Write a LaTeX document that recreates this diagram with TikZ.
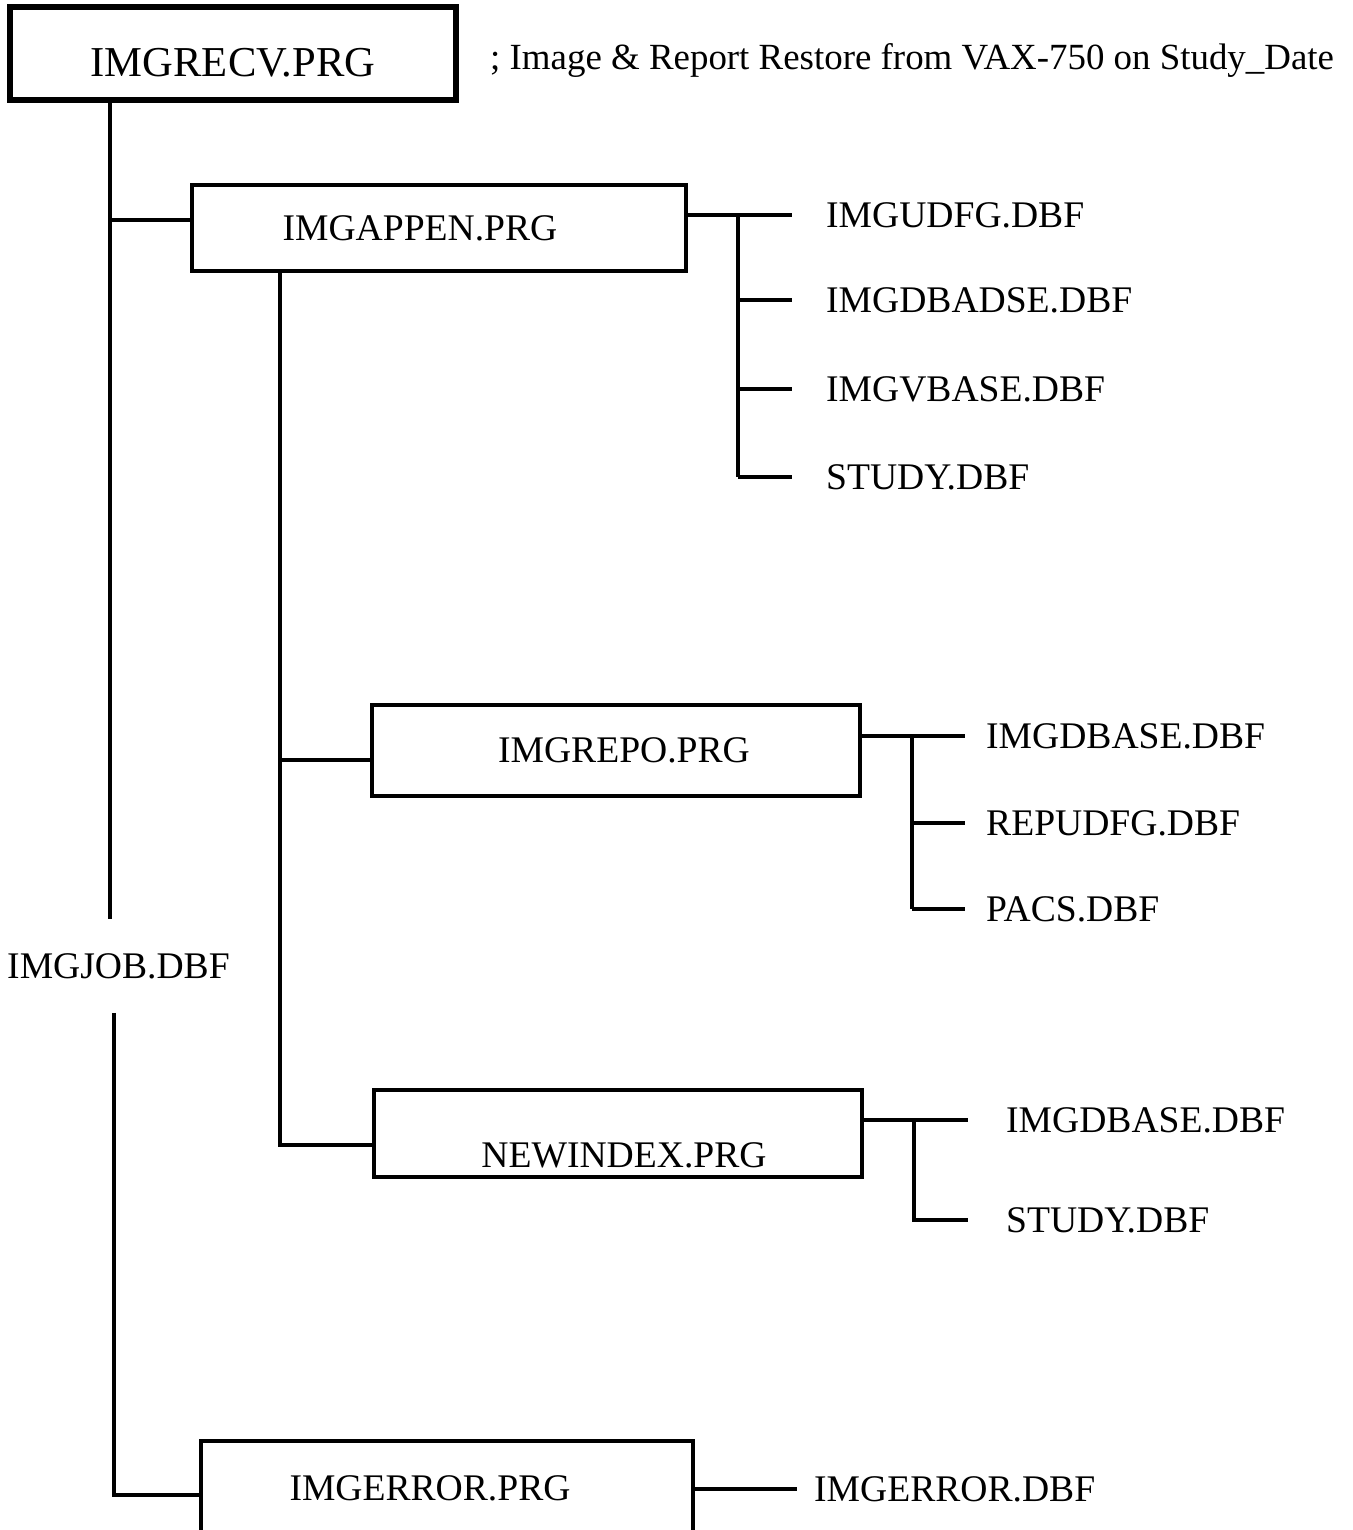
\documentclass[tikz,border=0pt]{standalone}
\usepackage{fontspec}
\setmainfont{Liberation Serif}
\usetikzlibrary{positioning}

\tikzset{
    prgbox/.style={draw,line width=3.3pt,inner sep=0pt,font=\fontsize{37.6}{40}\selectfont},
    dbf/.style={anchor=west,inner sep=0pt,font=\fontsize{37.6}{40}\selectfont},
    link/.style={line width=3.5pt},
}

\begin{document}
\begin{tikzpicture}[x=1pt,y=-1pt]
    \useasboundingbox (0,0) rectangle (1352,1530);

    % programs
    \node[prgbox,line width=5.5pt,minimum width=446pt,minimum height=93pt,text height=50pt,text depth=3pt,font=\fontsize{42.6}{45}\selectfont] (recv) at (233,53.5) {IMGRECV.PRG};
    \node[dbf,anchor=base west,font=\fontsize{36.9}{40}\selectfont] (note) at (490,70) {; Image \& Report Restore from VAX-750 on Study\_Date};
    \node[prgbox,minimum width=494pt,minimum height=86pt] (appen) at (439,228) {\hspace*{-38pt}IMGAPPEN.PRG};
    \node[prgbox,minimum width=488pt,minimum height=91pt] (repo) at (616,750.5) {\hspace*{16pt}IMGREPO.PRG};
    \node[prgbox,minimum width=488pt,minimum height=87pt,text height=70pt,text depth=3pt] (newidx) at (618,1133.5) {\hspace*{12pt}NEWINDEX.PRG};
    \node[prgbox,minimum width=492pt,minimum height=94pt] (error) at (447,1488) {\hspace*{-34pt}IMGERROR.PRG};
    \node[font=\fontsize{37.6}{40}\selectfont,inner xsep=0pt,inner ysep=34pt] (job) at (118.5,966) {IMGJOB.DBF};

    % data files
    \node[dbf] (udfg) at (826,215) {IMGUDFG.DBF};
    \node[dbf] (dbadse) at (826,300) {IMGDBADSE.DBF};
    \node[dbf] (vbase) at (826,389) {IMGVBASE.DBF};
    \node[dbf] (studyA) at (826,477) {STUDY.DBF};
    \node[dbf] (dbaseA) at (986,736) {IMGDBASE.DBF};
    \node[dbf] (repudfg) at (986,823) {REPUDFG.DBF};
    \node[dbf] (pacs) at (986,909) {PACS.DBF};
    \node[dbf] (dbaseB) at (1006,1120) {IMGDBASE.DBF};
    \node[dbf] (studyB) at (1006,1220) {STUDY.DBF};
    \node[dbf] (errdbf) at (814,1489) {IMGERROR.DBF};

    % spines and entry points
    \coordinate (trunkA) at (110,0);
    \coordinate (trunkB) at (114,0);
    \coordinate (spineB) at (280,0);
    \coordinate (spineA) at (738,0);
    \coordinate (spineC) at (912,0);
    \coordinate (spineD) at (914,0);
    \coordinate (appenIn) at ([yshift=8pt]appen.west);
    \coordinate (repoIn) at ([yshift=-9.5pt]repo.west);
    \coordinate (newidxIn) at ([yshift=-11.5pt]newidx.west);
    \coordinate (errorIn) at ([yshift=-7pt]error.west);

    % main trunk
    \draw[link] (recv.south -| trunkA) -- (job.north -| trunkA);
    \draw[link] (trunkA |- appenIn) -- (appenIn);
    \draw[link] (job.south -| trunkB) |- (errorIn);
    \draw[link,shorten >=17pt] (error.east |- errdbf.west) -- (errdbf.west);

    % IMGAPPEN
    \draw[link] (appen.south -| spineB) |- (newidxIn);
    \draw[link] (spineB |- repoIn) -- (repoIn);
    \draw[link,shorten >=34pt] (appen.east |- udfg.west) -- (udfg.west);
    \draw[link] (spineA |- udfg.west) -- (spineA |- studyA.west);
    \foreach \f in {dbadse,vbase,studyA}
        \draw[link,shorten >=34pt] (spineA |- \f.west) -- (\f.west);

    % IMGREPO
    \draw[link,shorten >=21pt] (repo.east |- dbaseA.west) -- (dbaseA.west);
    \draw[link] (spineC |- dbaseA.west) -- (spineC |- pacs.west);
    \foreach \f in {repudfg,pacs}
        \draw[link,shorten >=21pt] (spineC |- \f.west) -- (\f.west);

    % NEWINDEX
    \draw[link,shorten >=38pt] (newidx.east |- dbaseB.west) -- (dbaseB.west);
    \draw[link,shorten >=38pt] (spineD |- dbaseB.west) |- (studyB.west);
\end{tikzpicture}
\end{document}
